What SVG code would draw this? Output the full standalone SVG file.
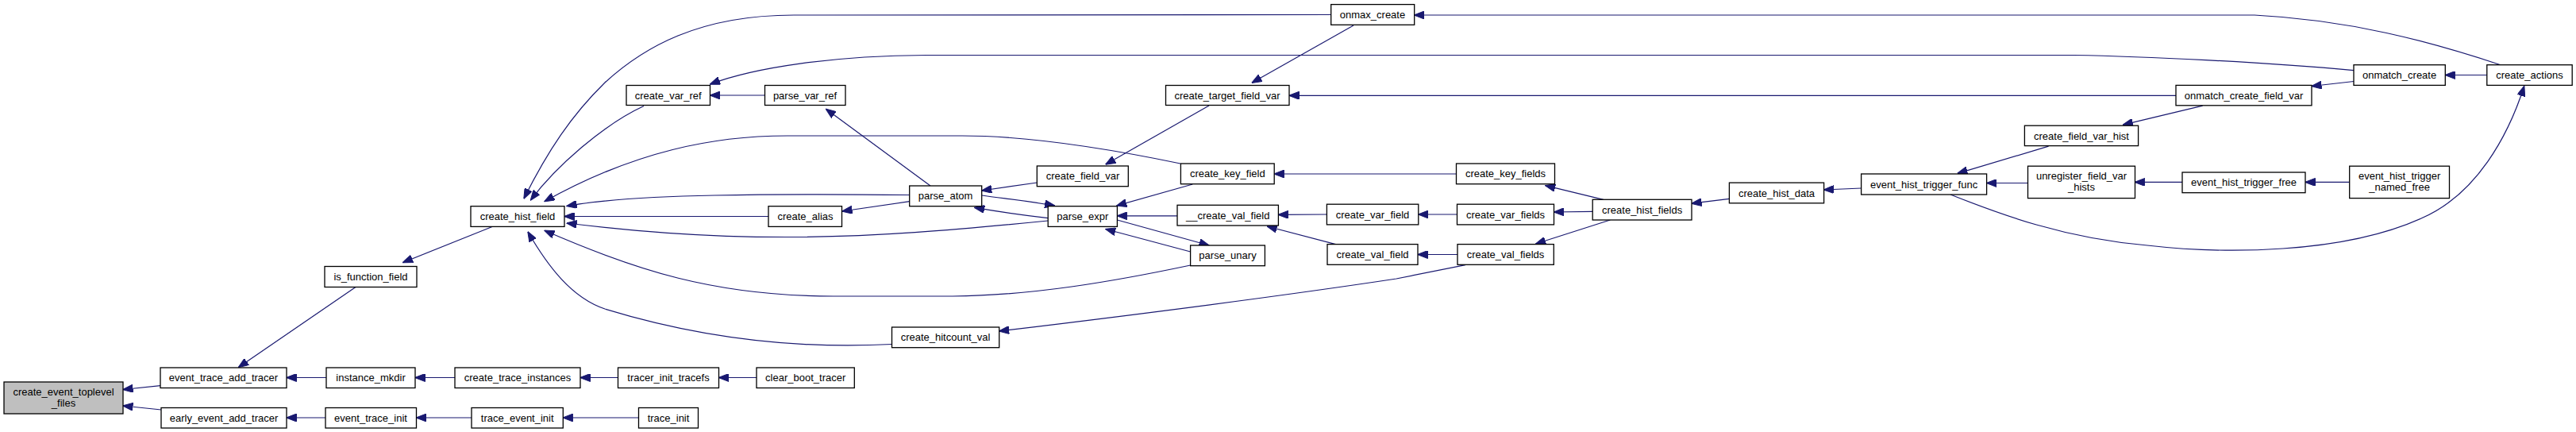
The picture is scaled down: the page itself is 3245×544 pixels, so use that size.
<svg xmlns="http://www.w3.org/2000/svg" width="3245" height="544" viewBox="0 0 3245 544">
<style>
.n rect{fill:#fff;stroke:#000;stroke-width:1.3}
.n text{font-family:"Liberation Sans",Arial,sans-serif;font-size:13px;fill:#000;text-anchor:middle}
.root rect{fill:#bfbfbf}
#edges path{fill:none;stroke:#191970;stroke-width:1.2;marker-end:url(#ah)}
</style>
<defs>
<marker id="ah" viewBox="0 0 13 10" markerWidth="13" markerHeight="10" refX="12.5" refY="5" orient="auto" markerUnits="userSpaceOnUse">
<path d="M0,0 L13,5 L0,10 z" fill="#191970" stroke="#191970" stroke-width="1"/>
</marker>
</defs>
<rect width="3245" height="544" fill="#fff"/>
<g id="edges">
<path d="M202,485.6 L155,490.5"/>
<path d="M203,516 L155,511"/>
<path d="M448,361.5 L300.5,462.5"/>
<path d="M411,475.5 L361,475.5"/>
<path d="M410,526 L361,526"/>
<path d="M620,285.5 L507.5,330.5"/>
<path d="M573,475.5 L523,475.5"/>
<path d="M594,526 L524.5,526"/>
<path d="M778.5,475.5 L731,475.5"/>
<path d="M953,475.5 L905.5,475.5"/>
<path d="M804.5,526 L709.3,526"/>
<path d="M1676.7,18.5 L1000,19 C880,19 810,60 762,104 C720,145 690,190 660,250"/>
<path d="M811,133.5 C760,157 700,210 668.5,252"/>
<path d="M1487,206 C1400,188 1300,171 1212,171 L992,171 C900,171 800,190 686,253.7"/>
<path d="M1145.7,245.5 C1100,245 1000,244 900,246 C800,248 750,253 714,259.5"/>
<path d="M968,272.5 L711,272.5"/>
<path d="M1145.7,253.7 L1061,266"/>
<path d="M1320,278 C1200,290 1100,298 1000,298.5 C880,299 790,290 714,281"/>
<path d="M1499.6,334 C1400,355 1300,372 1200,373 L1050,373 C900,373 800,340 686,290.3"/>
<path d="M1123.5,433.5 C1000,440 880,425 762,389 C720,375 690,335 665,292"/>
<path d="M963.5,120 L894.5,120"/>
<path d="M1172,234 L1040.5,137.3"/>
<path d="M2965,88.6 C2850,78 2700,71 2612,69.5 L1167,69.5 C1050,70 950,85 894.5,106"/>
<path d="M1705,32 L1577,104.3"/>
<path d="M2741,120.3 L1624,120.3"/>
<path d="M1523,133 L1392.8,207"/>
<path d="M1306.3,230 L1236.8,240"/>
<path d="M1320.2,274.6 C1290,271 1260,267 1227.7,261.4"/>
<path d="M1236.8,246 C1265,250 1300,254 1328.5,259"/>
<path d="M1502.3,232 L1406.7,259"/>
<path d="M1483,271.8 L1407.4,271.8"/>
<path d="M1407.4,277 L1523,309"/>
<path d="M1499.6,317 L1392.8,288.5"/>
<path d="M1834.5,219 L1605.2,219"/>
<path d="M1671.4,270 L1610.4,270.4"/>
<path d="M1682.6,307.6 L1596.2,285"/>
<path d="M1835.5,270 L1786.8,270"/>
<path d="M1836,320.5 L1786,320.5"/>
<path d="M1846,333.7 C1810,341 1780,347 1759,351 C1600,375 1400,400 1258.7,417"/>
<path d="M2019.8,251.3 L1946.8,233.6"/>
<path d="M2006.2,266.3 L1957.5,267"/>
<path d="M2028.4,277 L1934.6,307"/>
<path d="M2178.4,250.3 L2131,256.2"/>
<path d="M2344.6,237 L2297.6,239"/>
<path d="M2580.6,184.2 L2466,218.3"/>
<path d="M2554.5,230.5 L2502.7,230.5"/>
<path d="M2774.7,133.1 L2674.4,157.1"/>
<path d="M2749,229.4 L2689.4,229.4"/>
<path d="M2959.7,229.4 L2904,229.4"/>
<path d="M2457,245 C2520,270 2600,300 2705,309 C2800,320 2950,320 3050,275 C3120,245 3160,170 3179.7,108.5"/>
<path d="M3132.8,94.5 L3080.3,94.5"/>
<path d="M2965,102.5 L2912,108.5"/>
<path d="M3150,81.7 C3060,52 2960,25 2840,19 L1781.6,19"/>
</g>
<g id="create_event_toplevel_files" class="n root"><rect x="5" y="481" width="150" height="40"/><text x="80" y="497.5">create_event_toplevel</text><text x="80" y="512">_files</text></g>
<g id="event_trace_add_tracer" class="n"><rect x="202" y="463" width="159" height="25.5"/><text x="281.5" y="480">event_trace_add_tracer</text></g>
<g id="early_event_add_tracer" class="n"><rect x="203" y="513.5" width="158" height="25.5"/><text x="282" y="530.5">early_event_add_tracer</text></g>
<g id="is_function_field" class="n"><rect x="409" y="335.5" width="116" height="26"/><text x="467" y="353">is_function_field</text></g>
<g id="instance_mkdir" class="n"><rect x="411" y="463" width="112" height="25.5"/><text x="467" y="480">instance_mkdir</text></g>
<g id="event_trace_init" class="n"><rect x="410" y="513.5" width="114.5" height="25.5"/><text x="467" y="530.5">event_trace_init</text></g>
<g id="create_var_ref" class="n"><rect x="789" y="107.5" width="105.5" height="25"/><text x="841.7" y="124.5">create_var_ref</text></g>
<g id="parse_var_ref" class="n"><rect x="963.5" y="107.5" width="101.5" height="25"/><text x="1014" y="124.5">parse_var_ref</text></g>
<g id="create_hist_field" class="n"><rect x="593" y="259.7" width="118" height="25.7"/><text x="652" y="277">create_hist_field</text></g>
<g id="create_alias" class="n"><rect x="968" y="259.7" width="92.5" height="25.7"/><text x="1014.5" y="277">create_alias</text></g>
<g id="create_trace_instances" class="n"><rect x="573" y="463" width="158" height="25.5"/><text x="652" y="480">create_trace_instances</text></g>
<g id="tracer_init_tracefs" class="n"><rect x="778.5" y="463" width="127" height="25.5"/><text x="842" y="480">tracer_init_tracefs</text></g>
<g id="clear_boot_tracer" class="n"><rect x="953" y="463" width="123.3" height="25.5"/><text x="1014.7" y="480">clear_boot_tracer</text></g>
<g id="trace_event_init" class="n"><rect x="594" y="513.5" width="115.3" height="25.5"/><text x="651.7" y="530.5">trace_event_init</text></g>
<g id="trace_init" class="n"><rect x="804.5" y="513.5" width="75" height="25.5"/><text x="842" y="530.5">trace_init</text></g>
<g id="create_target_field_var" class="n"><rect x="1468.5" y="107.5" width="155.5" height="25"/><text x="1546" y="124.5">create_target_field_var</text></g>
<g id="parse_atom" class="n"><rect x="1145.7" y="234" width="91" height="25.7"/><text x="1191" y="251.3">parse_atom</text></g>
<g id="create_field_var" class="n"><rect x="1306.3" y="209" width="115" height="25.7"/><text x="1364" y="226.3">create_field_var</text></g>
<g id="create_key_field" class="n"><rect x="1487.4" y="206" width="117.8" height="25.7"/><text x="1546.3" y="223.3">create_key_field</text></g>
<g id="parse_expr" class="n"><rect x="1320.2" y="259.7" width="87.2" height="25.7"/><text x="1363.8" y="277">parse_expr</text></g>
<g id="__create_val_field" class="n"><rect x="1483" y="258.3" width="127.4" height="25.7"/><text x="1546.7" y="275.5">__create_val_field</text></g>
<g id="parse_unary" class="n"><rect x="1499.6" y="309" width="93.8" height="25.7"/><text x="1546.5" y="326.3">parse_unary</text></g>
<g id="create_hitcount_val" class="n"><rect x="1123.5" y="412" width="135.2" height="25.7"/><text x="1191" y="429.3">create_hitcount_val</text></g>
<g id="onmax_create" class="n"><rect x="1676.7" y="5.6" width="105" height="25.7"/><text x="1729" y="23">onmax_create</text></g>
<g id="create_key_fields" class="n"><rect x="1834.5" y="206" width="124" height="25.7"/><text x="1896.5" y="223.3">create_key_fields</text></g>
<g id="create_var_field" class="n"><rect x="1671.4" y="257.2" width="115.4" height="25.7"/><text x="1729" y="274.5">create_var_field</text></g>
<g id="create_var_fields" class="n"><rect x="1835.5" y="257.2" width="122" height="25.7"/><text x="1896.5" y="274.5">create_var_fields</text></g>
<g id="create_hist_fields" class="n"><rect x="2006.2" y="251.3" width="124.8" height="25.7"/><text x="2068.6" y="268.6">create_hist_fields</text></g>
<g id="create_val_field" class="n"><rect x="1672" y="307.6" width="114" height="25.7"/><text x="1729" y="325">create_val_field</text></g>
<g id="create_val_fields" class="n"><rect x="1836" y="307.6" width="121.3" height="25.7"/><text x="1896.5" y="325">create_val_fields</text></g>
<g id="create_field_var_hist" class="n"><rect x="2550.4" y="158.2" width="143.2" height="25.4"/><text x="2622" y="175.5">create_field_var_hist</text></g>
<g id="unregister_field_var_hists" class="n"><rect x="2554.5" y="209.2" width="135" height="40.4"/><text x="2622" y="225.5">unregister_field_var</text><text x="2622" y="240">_hists</text></g>
<g id="event_hist_trigger_func" class="n"><rect x="2344.6" y="219" width="158" height="26"/><text x="2423.6" y="236.5">event_hist_trigger_func</text></g>
<g id="create_hist_data" class="n"><rect x="2178.4" y="230.1" width="119.2" height="25.7"/><text x="2238" y="247.5">create_hist_data</text></g>
<g id="onmatch_create" class="n"><rect x="2965" y="81.7" width="115.3" height="25.7"/><text x="3022.6" y="99">onmatch_create</text></g>
<g id="create_actions" class="n"><rect x="3132.8" y="81.7" width="107.4" height="25.7"/><text x="3186.5" y="99">create_actions</text></g>
<g id="onmatch_create_field_var" class="n"><rect x="2741" y="107.4" width="171" height="25.4"/><text x="2826.5" y="124.5">onmatch_create_field_var</text></g>
<g id="event_hist_trigger_free" class="n"><rect x="2749" y="217" width="155" height="25.7"/><text x="2826.5" y="234.3">event_hist_trigger_free</text></g>
<g id="event_hist_trigger_named_free" class="n"><rect x="2959.7" y="209.2" width="125.8" height="40.4"/><text x="3022.6" y="225.5">event_hist_trigger</text><text x="3022.6" y="240">_named_free</text></g>
</svg>
